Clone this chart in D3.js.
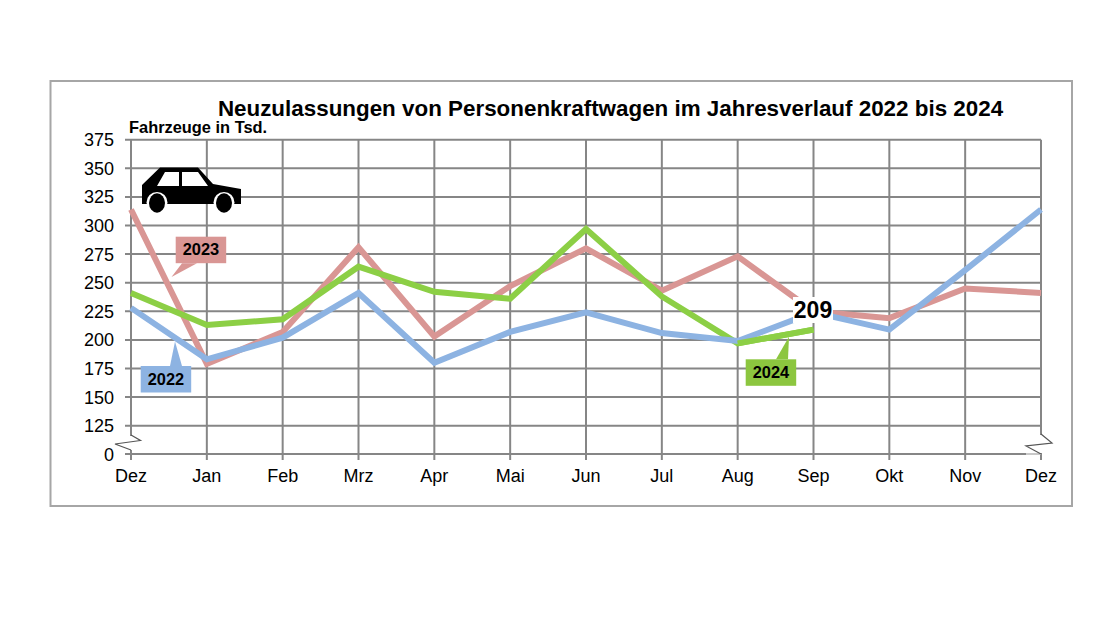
<!DOCTYPE html>
<html><head><meta charset="utf-8">
<script src="https://cdn.jsdelivr.net/npm/d3@7"></script>
<style>html,body{margin:0;padding:0;background:#fff}svg{display:block}text{font-family:"Liberation Sans",Arial,sans-serif;fill:#000}</style>
</head><body><svg id="c" width="1100" height="619"></svg>
<script>
const months = ["Dez","Jan","Feb","Mrz","Apr","Mai","Jun","Jul","Aug","Sep","Okt","Nov","Dez"];
const yTicks = [0,125,150,175,200,225,250,275,300,325,350,375];
const s2022 = [228,183,202,241,180,207,224,206,199,224,209,261,314];
const s2023 = [314,179,207,281,203,247,280,243,273,225,219,245,241];
const s2024 = [241,213,218,264,242,236,297,238,197,209];
const title = "Neuzulassungen von Personenkraftwagen im Jahresverlauf 2022 bis 2024";
const unit = "Fahrzeuge in Tsd.";
const colors = {g22:"#8db3e2",g23:"#d99694",g24:"#8ccf45"};

const svg = d3.select("#c");
const x = d3.scalePoint().domain(d3.range(months.length)).range([131,1041]);
const y = d3.scaleLinear().domain([0,125,375]).range([454,425.7,139.7]);
const grid = "#868686";

svg.append("rect").attr("x",50.5).attr("y",81).attr("width",1021.5).attr("height",425)
  .attr("fill","#fff").attr("stroke","#a6a6a6").attr("stroke-width",2);

// horizontal grid
svg.append("g").selectAll("line").data(yTicks).join("line")
  .attr("x1",125).attr("x2",1041).attr("y1",d=>y(d)).attr("y2",d=>y(d))
  .attr("stroke",grid).attr("stroke-width",2);
// vertical grid
svg.append("g").selectAll("line").data(months).join("line")
  .attr("x1",(d,i)=>x(i)).attr("x2",(d,i)=>x(i)).attr("y1",y(375)).attr("y2",y(0)+6)
  .attr("stroke",grid).attr("stroke-width",2);

// axis-break marks
const zigLeft = [[131,435],[140.5,440.5],[115,444],[131,450]];
const zigRight = [[1041,434],[1052,443],[1026,446],[1041,454]];
svg.append("rect").attr("x",113).attr("y",436).attr("width",28).attr("height",14).attr("fill","#fff");
svg.append("rect").attr("x",1024).attr("y",435).attr("width",30).attr("height",18).attr("fill","#fff");
svg.append("line").attr("x1",1026).attr("x2",1041).attr("y1",y(0)).attr("y2",y(0)).attr("stroke","#c8c8c8").attr("stroke-width",2);
[zigLeft,zigRight].forEach(z=>{
  svg.append("path").attr("d",d3.line()(z)).attr("fill","none").attr("stroke","#555").attr("stroke-width",1.2);
});

// y labels
svg.append("g").selectAll("text").data(yTicks).join("text")
  .attr("x",114).attr("y",d=>y(d)+6.5).attr("text-anchor","end").attr("font-size",18).text(d=>d);
// x labels
svg.append("g").selectAll("text").data(months).join("text")
  .attr("x",(d,i)=>x(i)).attr("y",482).attr("text-anchor","middle").attr("font-size",18).text(d=>d);

svg.append("text").attr("x",610.5).attr("y",116).attr("text-anchor","middle")
  .attr("font-size",22.4).attr("font-weight","bold").text(title);
svg.append("text").attr("x",129).attr("y",133).attr("font-size",16.4).attr("font-weight","bold").text(unit);

// lines
const line = d3.line().x((d,i)=>x(i)).y(d=>y(d));
[[s2023,colors.g23],[s2024,colors.g24],[s2022,colors.g22]].forEach(([s,c])=>{
  svg.append("path").attr("d",line(s)).attr("fill","none").attr("stroke",c)
    .attr("stroke-width",6).attr("stroke-linejoin","miter").attr("stroke-linecap","butt");
});
// green end runs over the blue at Aug–Sep
svg.append("path").attr("d",d3.line().x(d=>x(d)).y(d=>y(s2024[d]))([8,9]))
  .attr("fill","none").attr("stroke",colors.g24).attr("stroke-width",6);

// callouts
function callout(label,c,bx,by,tip,baseA,baseB,top){
  const w=50.5,h=26.5;
  svg.append("path").attr("d",`M${tip[0]} ${tip[1]} L${baseA} ${top?by+h:by} L${baseB} ${top?by+h:by} Z`).attr("fill",c);
  svg.append("rect").attr("x",bx).attr("y",by).attr("width",w).attr("height",h).attr("fill",c);
  svg.append("text").attr("x",bx+w/2).attr("y",by+h/2+5.5).attr("text-anchor","middle")
    .attr("font-size",16.4).attr("font-weight","bold").text(label);
}
callout("2023",colors.g23,175.7,236.7,[171.5,277],182,197,true);
callout("2022",colors.g22,140.7,366,[175,341.5],170,182,false);
callout("2024","#8cc63f",745.7,359.3,[789,336.7],776,788,false);

// value label 209
svg.append("rect").attr("x",793).attr("y",297).attr("width",40).attr("height",26).attr("fill","#fff");
svg.append("text").attr("x",813).attr("y",318).attr("text-anchor","middle")
  .attr("font-size",23).attr("font-weight","bold").text("209");

// car pictogram
const car = svg.append("g").attr("fill","#000");
car.append("path").attr("d","M142 185 L160 167.5 L198 167.5 L213 184 L241 189 L241 204 L142 204 Z");
car.append("path").attr("d","M157 186 L165 172 L179 172 L179 186 Z M182 172 L198 172 L208 186 L182 186 Z").attr("fill","#fff");
[[157,203],[224,203]].forEach(([cx,cy])=>{
  car.append("ellipse").attr("cx",cx).attr("cy",cy-0.5).attr("rx",10.5).attr("ry",10.5).attr("fill","#fff").attr("clip-path",null);
  car.append("ellipse").attr("cx",cx).attr("cy",cy).attr("rx",8).attr("ry",9.7).attr("fill","#000");
});
</script></body></html>
